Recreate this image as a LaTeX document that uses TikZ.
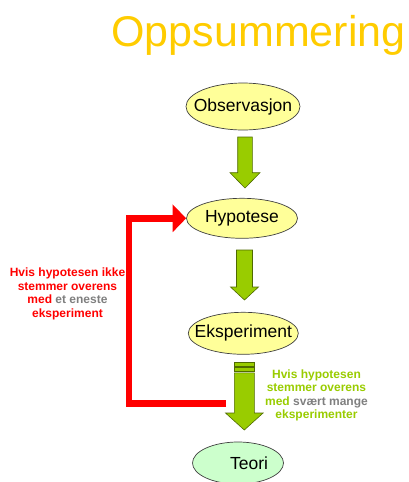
\documentclass[tikz,border=0pt]{standalone}
\usepackage{fontspec}
\setmainfont{Liberation Sans}
\usetikzlibrary{shapes.geometric,arrows.meta}

\definecolor{titlegold}{HTML}{FFCC00}
\definecolor{bubbleyellow}{HTML}{FFFF99}
\definecolor{bubblegreen}{HTML}{CCFFCC}
\definecolor{leafgreen}{HTML}{99CC00}
\definecolor{leafedge}{HTML}{4F6A00}
\definecolor{notegrey}{HTML}{7F7F7F}

% Downward block arrow: centre x, top y, head start y, tip y, shaft half width, head half width
\newcommand\downblock[6]{%
  \filldraw[blockarrow]
    (#1-#5,#2) -- (#1+#5,#2) -- (#1+#5,#3) -- (#1+#6,#3) -- (#1,#4)
    -- (#1-#6,#3) -- (#1-#5,#3) -- cycle;}

\begin{document}
\begin{tikzpicture}[x=1pt,y=-1pt,
  bubble/.style={ellipse, draw=black!75, line width=0.7pt, fill=bubbleyellow,
    inner sep=0pt},
  every label/.style={font=\fontsize{17.5}{20}\selectfont, inner sep=0pt},
  blockarrow/.style={fill=leafgreen, draw=leafedge, line width=0.6pt, line join=miter},
  loopline/.style={draw=red, line width=6.5pt, line join=miter,
    -{Triangle[length=13.5pt,width=27pt]}},
  note/.style={align=center, font=\fontsize{12}{13.6}\selectfont\bfseries}]

\useasboundingbox (0,0) rectangle (409,482);

% heading
\node[anchor=base, text=titlegold, inner sep=0pt,
  font=\fontsize{43}{50}\selectfont] (title) at (258.5,46.7) {Oppsummering};

% the four stages
\node[bubble, minimum width=114pt, minimum height=47pt,
  label={center:Observasjon}] (obs) at (243,106.5) {};
\node[bubble, minimum width=111pt, minimum height=40pt,
  label={center:Hypotese}] (hyp) at (242,218.3) {};
\node[bubble, minimum width=110pt, minimum height=42pt,
  label={center:Eksperiment}] (eks) at (243.3,333.3) {};
\node[bubble, fill=bubblegreen, minimum width=91pt, minimum height=42pt,
  label={[xshift=11pt]center:Teori}] (teori) at (238,463) {};

% green step arrows
\downblock{245}{137}{172.7}{188}{7.3}{15}
\downblock{244.5}{250}{287}{300}{8}{14}

% striped arrow from the experiment to the theory
\filldraw[blockarrow] (234.3,362.3) rectangle (254.3,366.7);
\filldraw[blockarrow] (234.3,367.3) rectangle (254.3,371.3);
\downblock{244.3}{372.8}{413}{430}{10}{18.8}

% red loop back to the hypothesis
\coordinate (loopstart) at (226,403.7);
\draw[loopline] (loopstart) -- (129,403.7) |- (hyp.west);

% side notes
\node[note, text=red] (fail) at (67.5,293.7)
  {Hvis hypotesen ikke\\stemmer overens\\med \textcolor{notegrey}{et eneste}\\eksperiment};
\node[note, text=leafgreen] (pass) at (316.5,395.3)
  {Hvis hypotesen\\stemmer overens\\med \textcolor{notegrey}{svært mange}\\eksperimenter};

\end{tikzpicture}
\end{document}
